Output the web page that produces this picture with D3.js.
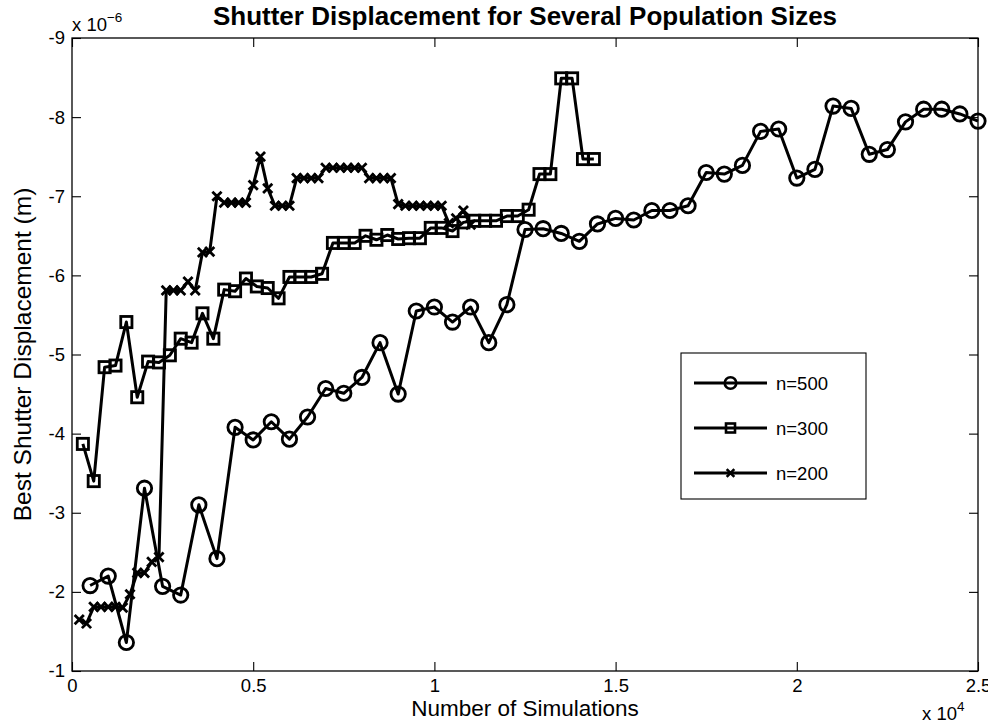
<!DOCTYPE html>
<html>
<head>
<meta charset="utf-8">
<script src="https://cdn.jsdelivr.net/npm/d3@7"></script>
<style>
  html, body { margin: 0; padding: 0; background: #fff; }
  svg { display: block; }
  text { font-family: "Liberation Sans", Arial, Helvetica, sans-serif; fill: #000; }
</style>
</head>
<body>
<svg id="chart" width="988" height="727"></svg>
<script>
// Best shutter displacement (units of 1e-6 m) against cumulative simulations
const sims500 = [500,1000,1500,2000,2500,3000,3500,4000,4500,5000,5500,6000,6500,7000,7500,8000,8500,9000,9500,10000,
  10500,11000,11500,12000,12500,13000,13500,14000,14500,15000,15500,16000,16500,17000,17500,18000,18500,19000,19500,20000,
  20500,21000,21500,22000,22500,23000,23500,24000,24500,25000];
const disp500 = [-2.08,-2.20,-1.36,-3.31,-2.07,-1.96,-3.10,-2.42,-4.08,-3.92,-4.15,-3.93,-4.21,-4.57,-4.51,-4.71,-5.15,-4.50,-5.55,-5.60,
  -5.41,-5.60,-5.15,-5.63,-6.58,-6.59,-6.53,-6.43,-6.65,-6.72,-6.70,-6.82,-6.82,-6.88,-7.30,-7.28,-7.39,-7.82,-7.85,-7.23,
  -7.34,-8.14,-8.11,-7.53,-7.59,-7.94,-8.10,-8.10,-8.04,-7.95];

const sims300 = [300,600,900,1200,1500,1800,2100,2400,2700,3000,3300,3600,3900,4200,4500,4800,5100,5400,5700,6000,
  6300,6600,6900,7200,7500,7800,8100,8400,8700,9000,9300,9600,9900,10200,10500,10800,11100,11400,11700,12000,
  12300,12600,12900,13200,13500,13800,14100,14400];
const disp300 = [-3.87,-3.40,-4.84,-4.86,-5.41,-4.46,-4.91,-4.90,-4.99,-5.20,-5.15,-5.52,-5.20,-5.82,-5.80,-5.96,-5.86,-5.84,-5.71,-5.98,
  -5.98,-5.98,-6.02,-6.41,-6.41,-6.41,-6.50,-6.45,-6.51,-6.46,-6.47,-6.47,-6.60,-6.60,-6.56,-6.67,-6.69,-6.69,-6.69,-6.75,
  -6.75,-6.83,-7.28,-7.28,-8.49,-8.49,-7.47,-7.47];

const sims200 = [200,400,600,800,1000,1200,1400,1600,1800,2000,2200,2400,2600,2800,3000,3200,3400,3600,3800,4000,
  4200,4400,4600,4800,5000,5200,5400,5600,5800,6000,6200,6400,6600,6800,7000,7200,7400,7600,7800,8000,
  8200,8400,8600,8800,9000,9200,9400,9600,9800,10000,10200,10400,10600,10800,11000];
const disp200 = [-1.65,-1.60,-1.81,-1.81,-1.81,-1.81,-1.80,-1.97,-2.24,-2.24,-2.38,-2.44,-5.81,-5.81,-5.81,-5.92,-5.81,-6.29,-6.30,-7.00,
  -6.92,-6.92,-6.92,-6.92,-7.14,-7.50,-7.10,-6.88,-6.88,-6.88,-7.23,-7.23,-7.23,-7.23,-7.36,-7.36,-7.36,-7.36,-7.36,-7.36,
  -7.23,-7.23,-7.23,-7.23,-6.90,-6.88,-6.88,-6.88,-6.88,-6.88,-6.88,-6.66,-6.72,-6.82,-6.64];

const seriesNames = ["n=500", "n=300", "n=200"];
const seriesMarkers = ["circle", "square", "cross"];

const xTickValues = [0, 5000, 10000, 15000, 20000, 25000];
const xTickLabels = ["0", "0.5", "1", "1.5", "2", "2.5"];
const yTickValues = [-9, -8, -7, -6, -5, -4, -3, -2, -1];
const yTickLabels = ["-9", "-8", "-7", "-6", "-5", "-4", "-3", "-2", "-1"];

const titleText = "Shutter Displacement for Several Population Sizes";
const xLabelText = "Number of Simulations";
const yLabelText = "Best Shutter Displacement (m)";

const svg = d3.select("#chart");
const m = { left: 72, right: 978, top: 38, bottom: 671 };

const x = d3.scaleLinear().domain([0, 25000]).range([m.left, m.right]);
const y = d3.scaleLinear().domain([-9, -1]).range([m.top, m.bottom]);

const TICK_FONT = 18.5;
const XLABEL_FONT = 22.5;
const YLABEL_FONT = 24.5;

// axes box
svg.append("rect")
  .attr("x", m.left).attr("y", m.top)
  .attr("width", m.right - m.left).attr("height", m.bottom - m.top)
  .attr("fill", "none").attr("stroke", "#000").attr("stroke-width", 1.3);

// inward ticks on all four sides
const tickLen = 9;
const xAxisB = d3.axisBottom(x).tickValues(xTickValues).tickSize(-tickLen)
  .tickFormat((d, i) => xTickLabels[i]).tickPadding(8);
const gxb = svg.append("g").attr("transform", `translate(0,${m.bottom})`).call(xAxisB);
gxb.select(".domain").remove();
gxb.selectAll("line").attr("stroke", "#000").attr("stroke-width", 1.1);
gxb.selectAll("text").attr("font-size", TICK_FONT).attr("font-family", "Liberation Sans, Arial, sans-serif");

const xAxisT = d3.axisTop(x).tickValues(xTickValues).tickSize(-tickLen).tickFormat("");
const gxt = svg.append("g").attr("transform", `translate(0,${m.top})`).call(xAxisT);
gxt.select(".domain").remove();
gxt.selectAll("line").attr("stroke", "#000").attr("stroke-width", 1.1);

const yAxisL = d3.axisLeft(y).tickValues(yTickValues).tickSize(-tickLen)
  .tickFormat((d, i) => yTickLabels[i]).tickPadding(7);
const gyl = svg.append("g").attr("transform", `translate(${m.left},0)`).call(yAxisL);
gyl.select(".domain").remove();
gyl.selectAll("line").attr("stroke", "#000").attr("stroke-width", 1.1);
gyl.selectAll("text").attr("font-size", TICK_FONT).attr("font-family", "Liberation Sans, Arial, sans-serif");

const yAxisR = d3.axisRight(y).tickValues(yTickValues).tickSize(-tickLen).tickFormat("");
const gyr = svg.append("g").attr("transform", `translate(${m.right},0)`).call(yAxisR);
gyr.select(".domain").remove();
gyr.selectAll("line").attr("stroke", "#000").attr("stroke-width", 1.1);

// exponent multipliers
const yExp = svg.append("text").attr("x", 72).attr("y", 31).attr("font-size", TICK_FONT);
yExp.append("tspan").text("x 10");
yExp.append("tspan").attr("dy", -9).attr("font-size", 13.5).text("\u22126");

const xExp = svg.append("text").attr("x", 922).attr("y", 720).attr("font-size", TICK_FONT);
xExp.append("tspan").text("x 10");
xExp.append("tspan").attr("dy", -9).attr("font-size", 13.5).text("4");

// title and axis labels
svg.append("text").attr("x", (m.left + m.right) / 2).attr("y", 25)
  .attr("text-anchor", "middle").attr("font-size", 26).attr("font-weight", "bold").text(titleText);
svg.append("text").attr("x", (m.left + m.right) / 2).attr("y", 716)
  .attr("text-anchor", "middle").attr("font-size", XLABEL_FONT).text(xLabelText);
svg.append("text")
  .attr("transform", `translate(31,${(m.top + m.bottom) / 2}) rotate(-90)`)
  .attr("text-anchor", "middle").attr("font-size", YLABEL_FONT).text(yLabelText);

// marker drawing
function drawMarker(g, kind, cx, cy, size, sw) {
  if (kind === "circle") {
    g.append("circle").attr("cx", cx).attr("cy", cy).attr("r", size)
      .attr("fill", "none").attr("stroke", "#000").attr("stroke-width", sw);
  } else if (kind === "square") {
    g.append("rect").attr("x", cx - size).attr("y", cy - size)
      .attr("width", 2 * size).attr("height", 2 * size)
      .attr("fill", "none").attr("stroke", "#000").attr("stroke-width", sw);
  } else {
    g.append("path")
      .attr("d", `M${cx - size},${cy - size}L${cx + size},${cy + size}M${cx - size},${cy + size}L${cx + size},${cy - size}`)
      .attr("fill", "none").attr("stroke", "#000").attr("stroke-width", sw);
  }
}

const series = [
  { name: seriesNames[0], marker: seriesMarkers[0], xs: sims500, ys: disp500, size: 7.2 },
  { name: seriesNames[1], marker: seriesMarkers[1], xs: sims300, ys: disp300, size: 5.6 },
  { name: seriesNames[2], marker: seriesMarkers[2], xs: sims200, ys: disp200, size: 4.6 }
];

const clip = svg.append("defs").append("clipPath").attr("id", "plotclip");
clip.append("rect").attr("x", m.left - 12).attr("y", m.top - 12)
  .attr("width", m.right - m.left + 24).attr("height", m.bottom - m.top + 24);

const line = d3.line().x(d => x(d[0])).y(d => y(d[1]));
const plot = svg.append("g").attr("clip-path", "url(#plotclip)");

series.forEach(s => {
  const pts = s.xs.map((v, i) => [v, s.ys[i]]);
  const g = plot.append("g");
  g.append("path").datum(pts).attr("d", line)
    .attr("fill", "none").attr("stroke", "#000").attr("stroke-width", 3)
    .attr("stroke-linejoin", "round");
  pts.forEach(p => drawMarker(g, s.marker, x(p[0]), y(p[1]), s.size, 2.8));
});

// legend
const lg = svg.append("g");
lg.append("rect").attr("x", 681).attr("y", 353).attr("width", 185).attr("height", 146)
  .attr("fill", "#fff").attr("stroke", "#000").attr("stroke-width", 1.1);
const legendSizes = [5.8, 4.5, 3.8];
series.forEach((s, i) => {
  const ly = 383 + i * 45;
  lg.append("line").attr("x1", 694).attr("x2", 767).attr("y1", ly).attr("y2", ly)
    .attr("stroke", "#000").attr("stroke-width", 3);
  drawMarker(lg, s.marker, 730.5, ly, legendSizes[i], 2.6);
  lg.append("text").attr("x", 776).attr("y", ly).attr("dy", "0.36em")
    .attr("font-size", TICK_FONT).text(s.name);
});
</script>
</body>
</html>
